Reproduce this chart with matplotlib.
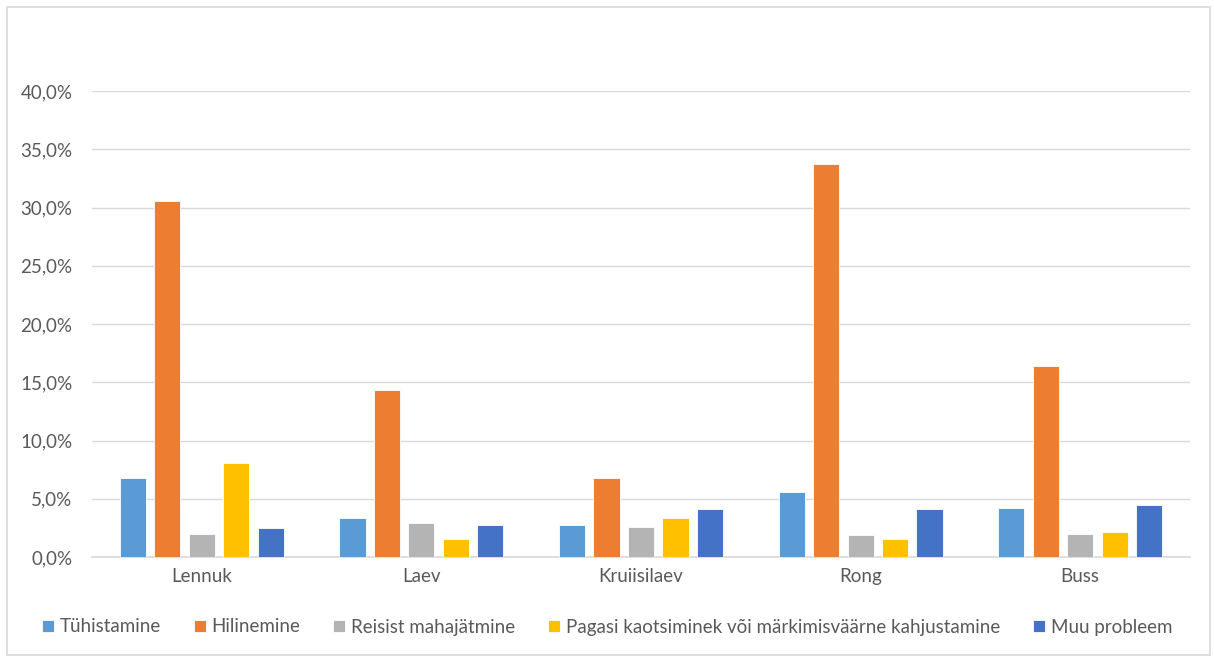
import numpy as np
import matplotlib.pyplot as plt
from matplotlib.patches import Rectangle
from matplotlib.ticker import FuncFormatter

plt.rcParams['font.family'] = ['Lato', 'DejaVu Sans']

transport = ["Lennuk", "Laev", "Kruiisilaev", "Rong", "Buss"]
tuhistamine = [6.75, 3.35, 2.75, 5.55, 4.2]
hilinemine = [30.6, 14.3, 6.75, 33.7, 16.4]
mahajatmine = [2.0, 2.9, 2.6, 1.85, 2.0]
pagas = [8.1, 1.55, 3.35, 1.55, 2.15]
muu = [2.45, 2.75, 4.1, 4.1, 4.5]

series = [
    ("Tühistamine", tuhistamine, "#5B9BD5"),
    ("Hilinemine", hilinemine, "#ED7D31"),
    ("Reisist mahajätmine", mahajatmine, "#B4B4B4"),
    ("Pagasi kaotsiminek või märkimisväärne kahjustamine", pagas, "#FFC000"),
    ("Muu probleem", muu, "#4472C4"),
]

fig = plt.figure(figsize=(12.14, 6.57), dpi=100)
ax = fig.add_axes([92 / 1214, 1 - 557 / 657, 1098 / 1214, 466 / 657])

# chart area frame
fig.patches.append(Rectangle((7 / 1214, 2 / 657), 1203 / 1214, 648 / 657,
                             transform=fig.transFigure, fill=False,
                             edgecolor="#D9D9D9", linewidth=1.2))

x = np.arange(len(transport))
step = 0.157
width = 0.119
for i, (name, vals, col) in enumerate(series):
    ax.bar(x + (i - 2) * step, vals, width, color=col, label=name,
           edgecolor="white", linewidth=0.6, zorder=3)

ax.set_xlim(-0.5, len(transport) - 0.5)
ax.set_ylim(0, 40)
ax.set_yticks(np.arange(0, 41, 5))
ax.yaxis.set_major_formatter(FuncFormatter(lambda v, p: f"{v:.1f}%".replace(".", ",")))
ax.set_xticks(x)
ax.set_xticklabels(transport)
ax.grid(axis="y", color="#D9D9D9", linewidth=1, zorder=0)
for s in ["top", "right", "left"]:
    ax.spines[s].set_visible(False)
ax.spines["bottom"].set_color("#D9D9D9")
ax.spines["bottom"].set_linewidth(1.2)
ax.tick_params(axis="both", length=0, labelsize=13.5, colors="#595959")
ax.tick_params(axis="y", pad=14)
ax.tick_params(axis="x", pad=8)

fig.legend(loc="center", bbox_to_anchor=(0.5, 1 - 627 / 657), ncol=5,
           frameon=False, fontsize=13.5, labelcolor="#595959",
           handlelength=0.65, handleheight=0.65, handletextpad=0.3,
           columnspacing=1.75)

fig.savefig("out.png", dpi=100)
